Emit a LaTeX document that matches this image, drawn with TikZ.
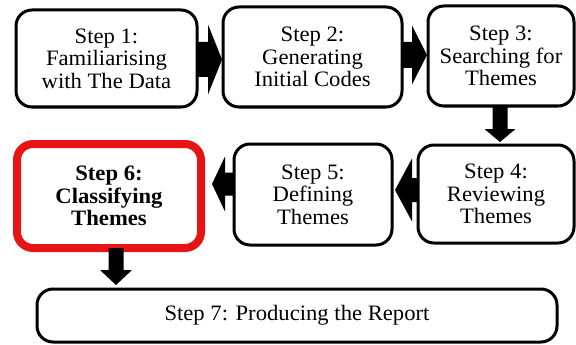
\documentclass[tikz,border=0pt]{standalone}
\usepackage{fontspec}
\setmainfont[FakeStretch=1.03]{Liberation Serif}
\usetikzlibrary{calc}
\tikzset{
  stepbox/.style={draw=black, line width=3pt, rounded corners=16pt, fill=white,
    inner sep=0pt, outer sep=0pt, align=center,
    font=\fontsize{22}{22.5}\selectfont},
  redbox/.style={stepbox, draw={rgb,255:red,230;green,20;blue,20}, line width=8pt,
    font=\fontsize{22}{22.5}\selectfont\bfseries},
}
\newcommand\harrow[5]{% start, tip, shaft half, head half, head length (signed)
  \fill ($(#1)+(0,-#3)$) -- ($(#2)+(-#5,-#3)$) -- ($(#2)+(-#5,-#4)$) -- (#2)
    -- ($(#2)+(-#5,#4)$) -- ($(#2)+(-#5,#3)$) -- ($(#1)+(0,#3)$) -- cycle;}
\newcommand\varrow[5]{% start, tip, shaft half, head half, head length (down)
  \fill ($(#1)+(-#3,0)$) -- ($(#2)+(-#3,-#5)$) -- ($(#2)+(-#4,-#5)$) -- (#2)
    -- ($(#2)+(#4,-#5)$) -- ($(#2)+(#3,-#5)$) -- ($(#1)+(#3,0)$) -- cycle;}
\begin{document}
\begin{tikzpicture}[x=1pt,y=-1pt]
\useasboundingbox[fill=white] (0,0) rectangle (576,345);
% boxes
\node[stepbox, minimum width=181pt, minimum height=97pt] (b1) at (106.5,58.5)
  {Step 1:\\Familiarising\\with The Data};
\node[stepbox, minimum width=179pt, minimum height=100pt] (b2) at (312.5,57)
  {Step 2:\\Generating\\Initial Codes};
\node[stepbox, minimum width=146pt, minimum height=100pt] (b3) at (501,56)
  {Step 3:\\Searching for\\Themes};
\node[stepbox, minimum width=156pt, minimum height=98pt] (b4) at (496,194)
  {Step 4:\\Reviewing\\Themes};
\node[stepbox, minimum width=158pt, minimum height=101pt] (b5) at (313,194.5)
  {Step 5:\\Defining\\Themes};
\node[redbox, minimum width=184pt, minimum height=104pt] (b6) at (109,196)
  {Step 6:\\Classifying\\Themes};
\node[stepbox, minimum width=520pt, minimum height=53pt] (b7) at (297,315.5)
  {Step 7: Producing the Report};
% arrows
\coordinate (s12) at ($(b1.east)+(0,1)$);
\coordinate (t12) at ($(b2.west)+(-1,2.5)$);
\harrow{s12}{t12}{17.5}{35}{14}
\coordinate (s23) at ($(b2.east)+(0,-2)$);
\coordinate (t23) at ($(b3.west)+(-1,-1)$);
\harrow{s23}{t23}{13}{29.5}{15}
\coordinate (s34) at ($(b3.south)+(-1,0)$);
\coordinate (t34) at ($(b4.north)+(4,-3)$);
\varrow{s34}{t34}{7.5}{15.5}{13}
\coordinate (s45) at ($(b4.west)+(0,-4)$);
\coordinate (t45) at ($(b5.east)+(3,-4.5)$);
\harrow{s45}{t45}{12}{31.5}{-17}
\coordinate (s56) at ($(b5.west)+(0,-10.5)$);
\coordinate (t56) at ($(b6.east)+(11,-12)$);
\harrow{s56}{t56}{11.5}{27.5}{-13}
\coordinate (s67) at ($(b6.south)+(7,0)$);
\coordinate (t67) at ($(b6.south)+(7,37)$);
\varrow{s67}{t67}{7.5}{16}{15}
\end{tikzpicture}
\end{document}
